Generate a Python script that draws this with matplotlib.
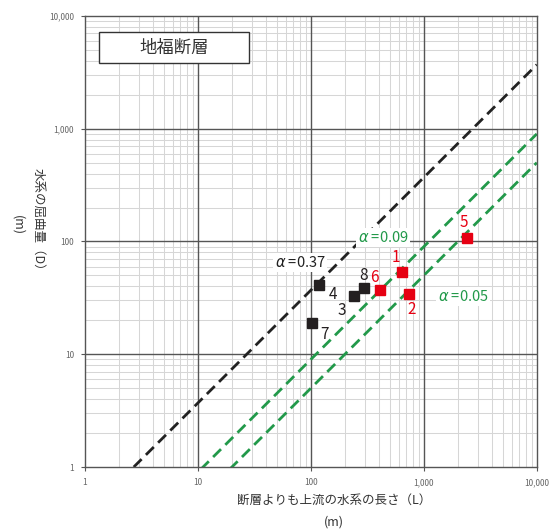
import matplotlib
matplotlib.use("Agg")
import matplotlib.pyplot as plt
from matplotlib.patches import Rectangle
from matplotlib.ticker import FixedLocator, FuncFormatter, NullFormatter
import numpy as np

plt.rcParams['font.family'] = ['Noto Sans CJK JP', 'DejaVu Sans']
plt.rcParams['mathtext.fontset'] = 'dejavusans'

# data
black_ids = ["3", "4", "7", "8"]
black_L = [240, 118, 102, 294]
black_D = [32.6, 41, 18.8, 39]
red_ids = ["1", "2", "5", "6"]
red_L = [639, 737, 2400, 408]
red_D = [54, 34, 108, 36.8]
alphas = [0.37, 0.09, 0.05]
alpha_colors = ["#222222", "#22994a", "#22994a"]
alpha_texts = [r"$\alpha$ =0.37", r"$\alpha$ =0.09", r"$\alpha$ =0.05"]
alpha_pos = [(80, 65), (434, 108), (2213, 32.6)]

fig = plt.figure(figsize=(5.5, 5.29), dpi=100)
ax = fig.add_axes([0.1545, 0.1172, 0.8215, 0.8526])
ax.set_xscale("log")
ax.set_yscale("log")
ax.set_xlim(1, 10000)
ax.set_ylim(1, 10000)

# grid
major = [1, 10, 100, 1000, 10000]
minor = [m * d for d in [1, 10, 100, 1000] for m in range(2, 10)]
ax.xaxis.set_major_locator(FixedLocator(major))
ax.yaxis.set_major_locator(FixedLocator(major))
ax.xaxis.set_minor_locator(FixedLocator(minor))
ax.yaxis.set_minor_locator(FixedLocator(minor))
ax.xaxis.set_minor_formatter(NullFormatter())
ax.yaxis.set_minor_formatter(NullFormatter())
fmt = FuncFormatter(lambda v, p: "{:,}".format(int(round(v))))
ax.xaxis.set_major_formatter(fmt)
ax.yaxis.set_major_formatter(fmt)
ax.set_axisbelow(True)
ax.grid(True, which="minor", color="#d6d6d6", linewidth=0.75)
for m in major[1:-1]:
    ax.axvline(m, color="#555555", linewidth=1.0, zorder=1)
    ax.axhline(m, color="#555555", linewidth=1.0, zorder=1)
ax.tick_params(which="both", length=0, labelsize=6, labelcolor="#666666", pad=5)
ax.tick_params(which="major", axis="both", length=3, color="#555555")
for s in ax.spines.values():
    s.set_color("#555555")
    s.set_linewidth(1.0)

# alpha lines
Lx = np.array([1, 10000])
for a, c, t, pos in zip(alphas, alpha_colors, alpha_texts, alpha_pos):
    ax.plot(Lx, a * Lx, color=c, linestyle=(0, (4, 2.2)), linewidth=2, zorder=2)
    ax.text(pos[0], pos[1], t, color=c, fontsize=10.5, ha="center", va="center", zorder=3,
            bbox=dict(facecolor="white", edgecolor="none", pad=1.5))

# points
ax.plot(black_L, black_D, "s", color="#231f20", markersize=6.5, zorder=4, linestyle="none")
ax.plot(red_L, red_D, "s", color="#e60012", markersize=6.5, zorder=4, linestyle="none")

black_off = {"3": (-9, -10), "4": (10, -7), "7": (9, -8), "8": (0, 9)}
red_off = {"1": (-4, 10), "2": (2, -11), "5": (-2, 11), "6": (-4, 9)}
for i, x, y in zip(black_ids, black_L, black_D):
    ax.annotate(i, (x, y), xytext=black_off[i], textcoords="offset points",
                ha="center", va="center", fontsize=11, color="#231f20", zorder=5)
for i, x, y in zip(red_ids, red_L, red_D):
    ax.annotate(i, (x, y), xytext=red_off[i], textcoords="offset points",
                ha="center", va="center", fontsize=11, color="#e60012", zorder=5)

# title box
ax.add_patch(Rectangle((0.031, 0.896), 0.332, 0.0685, transform=ax.transAxes,
                       facecolor="white", edgecolor="#333333", linewidth=1, zorder=6))
ax.text(0.197, 0.93, "地福断層", transform=ax.transAxes, fontsize=12.5, ha="center", va="center",
        color="#333333", zorder=7)

# axis labels
fig.text(0.607, 0.055, "断層よりも上流の水系の長さ（L）", fontsize=9, ha="center", va="center", color="#333333")
fig.text(0.607, 0.013, "(m)", fontsize=9, ha="center", va="center", color="#333333")
fig.text(0.07, 0.58, "水系の屈曲量（D）", fontsize=9, ha="center", va="center", rotation=-90, color="#333333")
fig.text(0.033, 0.575, "(m)", fontsize=9, ha="center", va="center", rotation=-90, color="#333333")

fig.savefig("out.png", dpi=100)
